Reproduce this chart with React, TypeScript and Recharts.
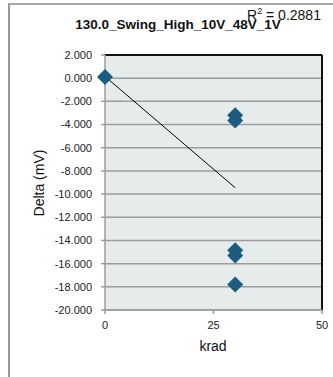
import React from "react";
import {
  ScatterChart,
  Scatter,
  XAxis,
  YAxis,
  CartesianGrid,
  ReferenceLine,
} from "recharts";

// measured points (krad, mV)
const kradValues = [0, 30, 30, 30, 30, 30];
const deltaValues = [0.1, -3.2, -3.65, -14.85, -15.3, -17.8];

// linear trendline endpoints as drawn in the picture
const trendKrad = [0, 30];
const trendDelta = [0.15, -9.45];

const xTicks = [0, 25, 50];
const yTicks = [2, 0, -2, -4, -6, -8, -10, -12, -14, -16, -18, -20];

const title = "130.0_Swing_High_10V_48V_1V";
const rSquared = "0.2881";

const points = kradValues.map((x, i) => ({ x, y: deltaValues[i] }));
const trend = trendKrad.map((x, i) => ({ x, y: trendDelta[i] }));

const FONT = "'Liberation Sans', Arial, sans-serif";

function Diamond(props: any) {
  const { cx, cy } = props;
  if (cx == null || cy == null) return null;
  const r = 8;
  return (
    <polygon
      points={`${cx},${cy - r} ${cx + r},${cy} ${cx},${cy + r} ${cx - r},${cy}`}
      fill="#1D5C7E"
    />
  );
}

export default function App() {
  return (
    <div
      style={{
        position: "absolute",
        left: 0,
        top: 0,
        width: 333,
        height: 377,
        overflow: "hidden",
        background: "#fff",
        fontFamily: FONT,
      }}
    >
      {/* chart frame */}
      <div
        style={{
          position: "absolute",
          left: 8,
          top: 3,
          width: 340,
          height: 372,
          borderLeft: "2px solid #9a9a9a",
          borderTop: "2px solid #a8a8a8",
          borderBottom: "1px solid #dcdcdc",
        }}
      />
      <div style={{ position: "absolute", left: 0, top: 0 }}>
        <ScatterChart
          width={333}
          height={377}
          margin={{ top: 55, right: 11, bottom: 37, left: 10 }}
        >
          <CartesianGrid
            horizontal
            vertical={false}
            fill="#E6ECEC"
            stroke="#9c9c9c"
            strokeWidth={1.5}
          />
          <XAxis
            type="number"
            dataKey="x"
            domain={[0, 50]}
            ticks={xTicks}
            interval={0}
            height={30}
            tickSize={4}
            tickMargin={7}
            stroke="#9c9c9c"
            strokeWidth={1.5}
            tick={{ fill: "#222", fontSize: 11, fontFamily: FONT }}
          />
          <YAxis
            type="number"
            dataKey="y"
            domain={[-20, 2]}
            ticks={yTicks}
            interval={0}
            width={95}
            tickSize={4}
            tickMargin={9}
            stroke="#9c9c9c"
            strokeWidth={1.5}
            tickFormatter={(v: number) => v.toFixed(3)}
            tick={{ fill: "#222", fontSize: 11, fontFamily: FONT }}
          />
          <ReferenceLine y={2} stroke="#111" strokeWidth={2} />
          <ReferenceLine x={50} stroke="#111" strokeWidth={2} />
          <Scatter
            data={trend}
            line={{ stroke: "#000", strokeWidth: 1 }}
            shape={() => null}
            isAnimationActive={false}
          />
          <Scatter data={points} shape={Diamond} isAnimationActive={false} />
        </ScatterChart>
      </div>
      <div
        style={{
          position: "absolute",
          left: 0,
          width: 356,
          top: 17,
          textAlign: "center",
          fontSize: 13.5,
          fontWeight: "bold",
          color: "#111",
          whiteSpace: "nowrap",
        }}
      >
        {title}
      </div>
      <div
        style={{
          position: "absolute",
          left: 247,
          top: 6,
          fontSize: 14,
          color: "#111",
          whiteSpace: "nowrap",
        }}
      >
        R<sup style={{ fontSize: 9 }}>2</sup> = {rSquared}
      </div>
      <div
        style={{
          position: "absolute",
          left: 180,
          width: 66,
          top: 338,
          textAlign: "center",
          fontSize: 14,
          color: "#111",
        }}
      >
        krad
      </div>
      <div
        style={{
          position: "absolute",
          left: 39,
          top: 183,
          fontSize: 14,
          color: "#111",
          whiteSpace: "nowrap",
          transform: "translate(-50%, -50%) rotate(-90deg)",
        }}
      >
        Delta (mV)
      </div>
    </div>
  );
}
